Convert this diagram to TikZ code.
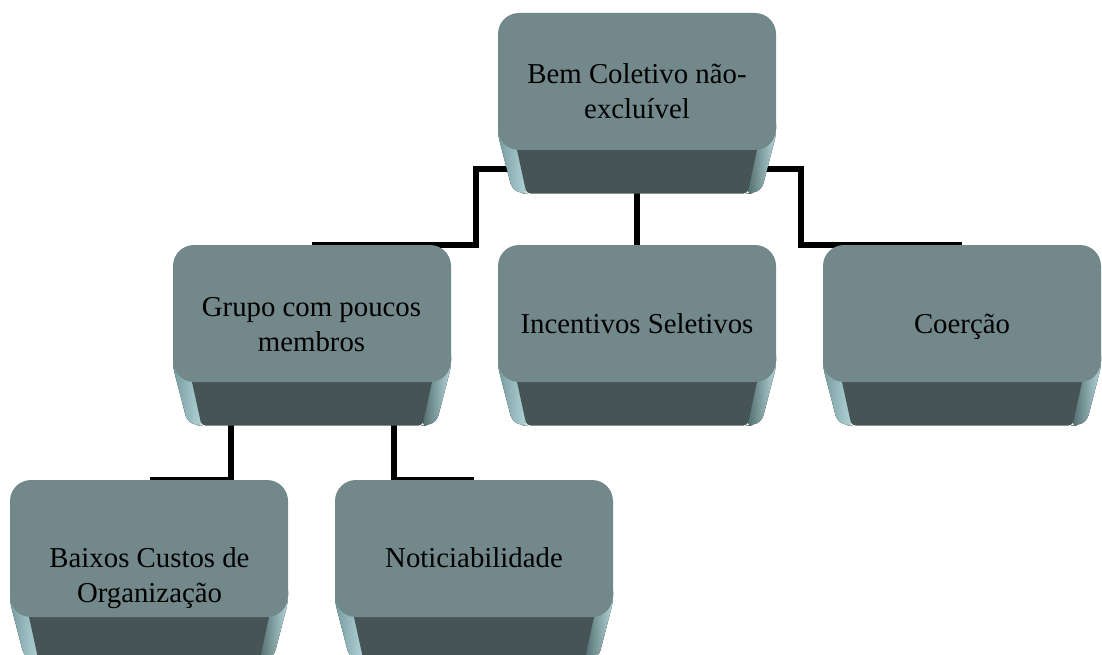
\documentclass[tikz,border=0pt]{standalone}
\usepackage{fontspec}
\setmainfont{Liberation Serif}
\definecolor{facecol}{RGB}{114,136,138}
\definecolor{darkfacecol}{RGB}{71,84,85}
\definecolor{bevlight}{RGB}{180,214,217}
\definecolor{bevmid}{RGB}{118,156,160}
\definecolor{bevdark}{RGB}{78,104,106}
\tikzset{
  lbl/.style={align=center, font=\fontsize{28.8}{35}\selectfont, inner sep=0pt, text=black},
  conn/.style={draw=black, line width=6pt},
}
\newcommand\sabox[3]{%
\begin{scope}[shift={(#2,#3)}]
  \fill[left color=bevmid,right color=bevlight,rounded corners=6]
    (0,105) -- (0,122) -- (14,176) -- (24,180.5) -- (30,180.5) -- (20,137) -- (20,105) -- cycle;
  \fill[left color=bevdark,right color=bevlight,rounded corners=6]
    (258,105) -- (258,137) -- (248,180.5) -- (254,180.5) -- (264,176) -- (278,122) -- (278,105) -- cycle;
  \fill[darkfacecol] (19,137) [rounded corners=4] -- (28.5,180.5) -- (249.5,180.5) [sharp corners] -- (259,137) -- cycle;
  \fill[facecol, rounded corners=21] (0,0) rectangle (278,137);
  \coordinate (#1-c) at (139,68);
  \coordinate (#1-t) at (139,0);
\end{scope}}
\begin{document}
\begin{tikzpicture}[x=1pt,y=-1pt]
\useasboundingbox (0,0) rectangle (1102,655);
\fill[white] (0,0) rectangle (1102,655);
\clip (0,0) rectangle (1102,655);
% named box anchors (defined by the shapes) are needed before connectors,
% so define coordinates first
\coordinate (bem-c) at (637,81);
\coordinate (bem-t) at (637,13);
\coordinate (grupo-c) at (311.5,313);
\coordinate (grupo-t) at (311.5,245);
\coordinate (incent-c) at (637,313);
\coordinate (incent-t) at (637,245);
\coordinate (coer-c) at (962,313);
\coordinate (coer-t) at (962,245);
\coordinate (baixos-c) at (149.5,548);
\coordinate (baixos-t) at (149.5,480);
\coordinate (notic-c) at (474,548);
\coordinate (notic-t) at (474,480);
\coordinate (jl) at (475.5,169);
\coordinate (jr) at (800.5,169);
\coordinate (kl) at (231,480);
\coordinate (kr) at (394,480);
% connectors
\draw[conn] (bem-c |- jl) -| (jl |- grupo-t) -- (grupo-t);
\draw[conn] (bem-c) -- (incent-c);
\draw[conn] (bem-c |- jr) -| (jr |- coer-t) -- (coer-t);
\draw[conn] (grupo-c -| kl) -- (kl) -- (baixos-t);
\draw[conn] (grupo-c -| kr) -- (kr) -- (notic-t);
% boxes
\sabox{bem}{498}{13}
\sabox{grupo}{173}{245}
\sabox{incent}{498}{245}
\sabox{coer}{823}{245}
\sabox{baixos}{10}{480}
\sabox{notic}{335}{480}
% labels
\node[lbl] (bemtext) at (637,91) {Bem Coletivo não-\\excluível};
\node[lbl] (grupotext) at (311.5,324.6) {Grupo com poucos\\membros};
\node[lbl] (incenttext) at (637,323.3) {Incentivos Seletivos};
\node[lbl] (coertext) at (962,326.7) {Coerção};
\node[lbl] (baixostext) at (149.5,578.3) {Baixos Custos de\\Organização};
\node[lbl] (notictext) at (474,557.9) {Noticiabilidade};
\end{tikzpicture}
\end{document}
